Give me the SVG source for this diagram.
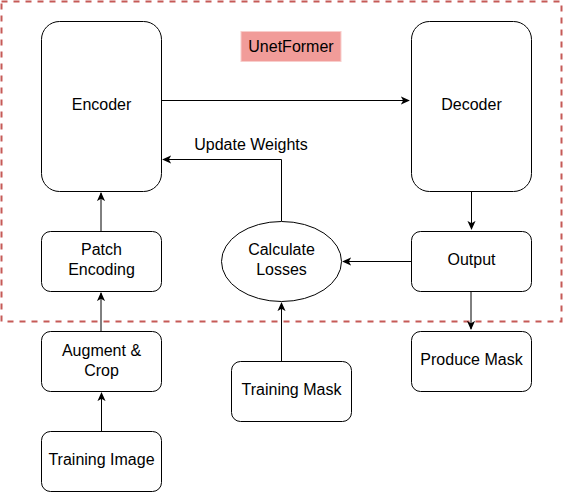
<svg xmlns="http://www.w3.org/2000/svg" width="563" height="492" viewBox="0 0 563 492">
<defs>
<style>
.box{fill:#fff;stroke:#000;stroke-width:1}
.lbl{font-family:"Liberation Sans",Arial,Helvetica,sans-serif;font-size:16px;fill:#000;text-anchor:middle}
.edge{fill:none;stroke:#000;stroke-width:1}
</style>
<marker id="arr" viewBox="0 0 10 10" refX="9" refY="5" markerWidth="9" markerHeight="9" markerUnits="userSpaceOnUse" orient="auto">
<path d="M0,0.5 L10,5 L0,9.5 L2.5,5 Z" fill="#000"/>
</marker>
</defs>
<rect width="563" height="492" fill="#fff"/>
<g id="container">
<rect x="1.5" y="1.5" width="560" height="320" fill="none" stroke="#c65a57" stroke-width="2" stroke-dasharray="6 6"/>
</g>
<g id="title">
<rect x="241" y="31.5" width="100" height="30" fill="#f19c99" stroke="#f8cecc" stroke-width="1"/>
<text class="lbl" x="291" y="52">UnetFormer</text>
</g>
<g id="connectors">
<path class="edge" d="M161.5,100.5 H409" marker-end="url(#arr)"/>
<path class="edge" d="M281.5,221 V159.5 H163" marker-end="url(#arr)"/>
<path class="edge" d="M471.5,191.5 V229" marker-end="url(#arr)"/>
<path class="edge" d="M411,261.5 H343" marker-end="url(#arr)"/>
<path class="edge" d="M471,291.5 V329" marker-end="url(#arr)"/>
<path class="edge" d="M101,231 V193" marker-end="url(#arr)"/>
<path class="edge" d="M101,331 V293" marker-end="url(#arr)"/>
<path class="edge" d="M101.5,431.5 V393" marker-end="url(#arr)"/>
<path class="edge" d="M281.5,361.5 V303" marker-end="url(#arr)"/>
</g>
<g id="encoder">
<rect class="box" x="41.5" y="21.5" width="120" height="170" rx="18"/>
<text class="lbl" x="101.5" y="110">Encoder</text>
</g>
<g id="decoder">
<rect class="box" x="411.5" y="21.5" width="120" height="170" rx="18"/>
<text class="lbl" x="471.5" y="110">Decoder</text>
</g>
<g id="patch">
<rect class="box" x="41.5" y="231.5" width="120" height="60" rx="9"/>
<text class="lbl" x="101.5" y="255">Patch</text>
<text class="lbl" x="101.5" y="275">Encoding</text>
</g>
<g id="losses">
<ellipse class="box" cx="281.5" cy="261.5" rx="60" ry="40"/>
<text class="lbl" x="281.5" y="255">Calculate</text>
<text class="lbl" x="281.5" y="275">Losses</text>
</g>
<g id="output">
<rect class="box" x="411.5" y="231.5" width="120" height="60" rx="9"/>
<text class="lbl" x="471.5" y="265">Output</text>
</g>
<g id="augment">
<rect class="box" x="41.5" y="331.5" width="120" height="60" rx="9"/>
<text class="lbl" x="101.5" y="355.5">Augment &amp;</text>
<text class="lbl" x="101.5" y="375.5">Crop</text>
</g>
<g id="produce">
<rect class="box" x="411.5" y="331.5" width="120" height="60" rx="9"/>
<text class="lbl" x="471.5" y="365">Produce Mask</text>
</g>
<g id="trainmask">
<rect class="box" x="231.5" y="361.5" width="120" height="60" rx="9"/>
<text class="lbl" x="291.5" y="395">Training Mask</text>
</g>
<g id="trainimage">
<rect class="box" x="41.5" y="431.5" width="120" height="60" rx="9"/>
<text class="lbl" x="101.5" y="465">Training Image</text>
</g>
<g id="edge-label">
<text class="lbl" x="251" y="150">Update Weights</text>
</g>
</svg>
